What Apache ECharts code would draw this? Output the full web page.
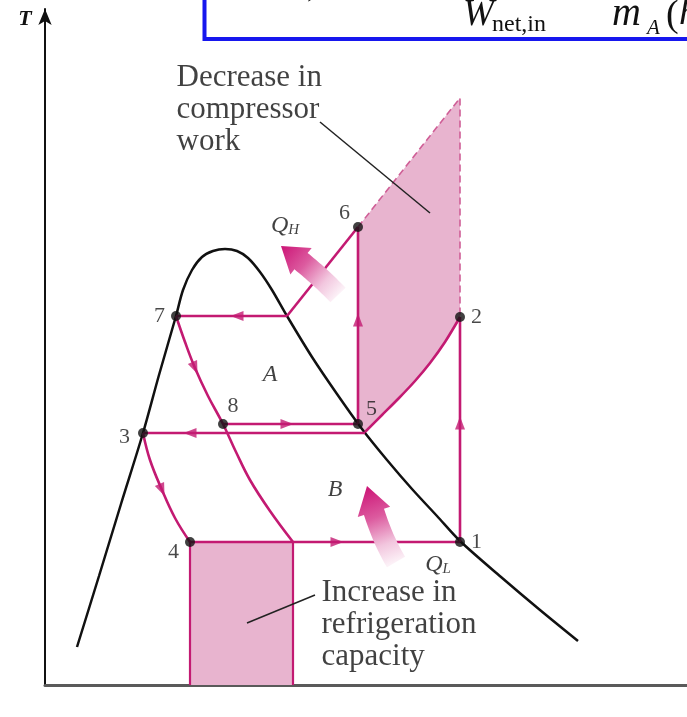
<!DOCTYPE html>
<html>
<head>
<meta charset="utf-8">
<script src="https://cdn.jsdelivr.net/npm/echarts@6/dist/echarts.min.js"></script>
<style>
html, body { margin: 0; padding: 0; background: #fff; }
#main { width: 687px; height: 717px; }
</style>
</head>
<body>
<div id="main"></div>
<script>
// T-s diagram of a two-stage cascade refrigeration system
// x = entropy s, y = temperature T, origin where the axes meet

// saturation dome
const dome = [[32, 38], [54, 109], [76, 181], [98, 252], [114, 310], [131, 369], [138, 395],
  [147, 415], [157, 428], [168, 434], [180, 436], [192, 434], [203, 427], [215, 413], [227, 395],
  [242, 369], [267, 328], [292, 291], [317, 256], [342, 225], [367, 196], [392, 169], [415, 144],
  [456, 108], [495, 75], [533, 44]];

// state points
const states = [['1', 415, 143], ['2', 415, 368], ['3', 98, 252], ['4', 145, 143],
  ['5', 313, 261], ['6', 313, 458], ['7', 131, 369], ['8', 178, 261]];

// lower cycle (B)
const evapB = [[145, 143], [415, 143]];
const compB = [[415, 143], [415, 368]];
const condB = [[415, 368], [400, 343], [385, 322], [370, 304], [354, 287], [337, 270], [320, 253]];
const liqB = [[320, 252], [98, 252]];
const expB = [[98, 252], [105, 225], [117, 195], [130, 167], [145, 143]];

// upper cycle (A)
const compA = [[313, 261], [313, 458]];
const desupA = [[313, 458], [242, 369]];
const condA = [[242, 369], [131, 369]];
const expA = [[131, 369], [140, 343], [150, 317], [163, 289], [178, 261], [191, 233], [205, 205], [225, 174], [248, 143]];
const evapA = [[178, 261], [313, 261]];

// single-stage comparison: compressor line and capacity strip
const singleComp = [[313, 458], [415, 587], [415, 368]];
const capLeft = [[145, 143], [145, 0]];
const capRight = [[248, 143], [248, 0]];

// shaded areas
const workArea = [[313, 261], [313, 458], [415, 587], [415, 368], [400, 343], [385, 322],
  [370, 304], [354, 287], [337, 270], [320, 253]];
const capArea = [[145, 0], [145, 143], [248, 143], [248, 0]];

// flow direction marks [s, T, angle]
const flowMarks = [[292, 143, -90], [415, 262, 0], [145, 252, 90], [117, 195, 203],
  [313, 365, 0], [192, 369, 90], [150, 317, 203], [242, 261, -90]];

// heat arrows [tail, bend, tip]
const heatArrows = [
  [[293, 390], [267, 417], [236, 439]],
  [[351, 123], [332, 155], [322, 199]]
];

// leader lines of the notes
const leaderTop = [[275, 563], [385, 472]];
const leaderBottom = [[270, 90], [202, 62]];

// italic symbols in the diagram
const symbols = [[225, 310, 'A'], [290, 195, 'B'], [240, 459, 'Q_H'], [393, 120, 'Q_L']];
// notes
const notes = [[132, 623, 'Decrease in\ncompressor\nwork'], [277, 108, 'Increase in\nrefrigeration\ncapacity']];

const MAGENTA = '#c31a72';
const PINK = '#e8b4cf';
const SERIF = '"Liberation Serif", "Times New Roman", serif';

const labelLayout = {
  '1': { position: 'right', distance: 6 },
  '2': { position: 'right', distance: 6 },
  '3': { position: 'left', distance: 8, offset: [0, 4] },
  '4': { position: 'left', distance: 6, offset: [0, 10] },
  '5': { position: 'right', distance: 3, offset: [0, -15] },
  '6': { position: 'left', distance: 3, offset: [0, -14] },
  '7': { position: 'left', distance: 6 },
  '8': { position: 'top', distance: 2, offset: [10, 0] }
};

function path(data, color, width, smooth, dashed) {
  return {
    type: 'line', data: data, symbol: 'none', smooth: smooth || false, silent: true, z: 3,
    lineStyle: { color: color, width: width, type: dashed ? [7, 4] : 'solid' }
  };
}

function renderArea(params, api) {
  const list = [workArea, capArea];
  const pts = list[params.dataIndex].map(function (p) { return api.coord(p); });
  return { type: 'polygon', shape: { points: pts }, style: { fill: PINK } };
}

function renderHeatArrow(params, api) {
  const a = heatArrows[params.dataIndex];
  const p0 = api.coord(a[0]), p1 = api.coord(a[1]), p2 = api.coord(a[2]);
  const headLen = 25, headHalf = 17, shaftHalf = 10.5;
  const at = function (t) {
    return [(1 - t) * (1 - t) * p0[0] + 2 * (1 - t) * t * p1[0] + t * t * p2[0],
      (1 - t) * (1 - t) * p0[1] + 2 * (1 - t) * t * p1[1] + t * t * p2[1]];
  };
  const nrm = function (t) {
    const dx = 2 * (1 - t) * (p1[0] - p0[0]) + 2 * t * (p2[0] - p1[0]);
    const dy = 2 * (1 - t) * (p1[1] - p0[1]) + 2 * t * (p2[1] - p1[1]);
    const l = Math.hypot(dx, dy);
    return [-dy / l, dx / l];
  };
  let len = 0, prev = p0;
  for (let i = 1; i <= 40; i++) {
    const q = at(i / 40);
    len += Math.hypot(q[0] - prev[0], q[1] - prev[1]);
    prev = q;
  }
  const th = 1 - headLen / len;
  const left = [], right = [];
  for (let i = 0; i <= 20; i++) {
    const t = th * i / 20, p = at(t), n = nrm(t);
    left.push([p[0] + n[0] * shaftHalf, p[1] + n[1] * shaftHalf]);
    right.push([p[0] - n[0] * shaftHalf, p[1] - n[1] * shaftHalf]);
  }
  const b = at(th), n = nrm(th);
  const pts = left.concat([[b[0] + n[0] * headHalf, b[1] + n[1] * headHalf], p2,
    [b[0] - n[0] * headHalf, b[1] - n[1] * headHalf]], right.reverse());
  return {
    type: 'polygon', shape: { points: pts },
    style: {
      fill: new echarts.graphic.LinearGradient(p0[0], p0[1], p2[0], p2[1], [
        { offset: 0, color: '#fcf1f7' }, { offset: 0.25, color: '#f2c6de' },
        { offset: 0.6, color: '#dc5b9f' }, { offset: 1, color: '#cc1476' }], true)
    }
  };
}

const chart = echarts.init(document.getElementById('main'));
chart.setOption({
  animation: false,
  backgroundColor: '#fff',
  grid: { left: 45, right: 0, top: 9, bottom: 32 },
  xAxis: {
    type: 'value', min: 0, max: 642,
    axisLine: { lineStyle: { color: '#5a5a5a', width: 3 } },
    axisTick: { show: false }, axisLabel: { show: false }, splitLine: { show: false }
  },
  yAxis: {
    type: 'value', min: 0, max: 676,
    axisLine: { show: true, lineStyle: { color: '#111', width: 2 }, symbol: ['none', 'arrow'], symbolSize: [10, 16] },
    axisTick: { show: false }, axisLabel: { show: false }, splitLine: { show: false }
  },
  graphic: [
    { type: 'text', x: 25, y: 19, style: { text: 'T', font: 'italic bold 22px ' + SERIF, fill: '#111', align: 'center', verticalAlign: 'middle' } },
    { type: 'rect', shape: { x: 204.5, y: -30, width: 540, height: 69 }, style: { fill: 'none', stroke: '#1717ee', lineWidth: 4 } },
    { type: 'text', x: 290, y: -9, style: { text: 'R,cascade', font: '26px ' + SERIF, fill: '#111', verticalAlign: 'middle' } },
    { type: 'text', x: 463, y: 15, style: { text: 'W', font: 'italic 37px ' + SERIF, fill: '#111', verticalAlign: 'middle' } },
    { type: 'text', x: 492, y: 25, style: { text: 'net,in', font: '24px ' + SERIF, fill: '#111', verticalAlign: 'middle' } },
    { type: 'text', x: 612, y: 14, style: { text: 'm', font: 'italic 40px ' + SERIF, fill: '#111', verticalAlign: 'middle' } },
    { type: 'text', x: 647, y: 28, style: { text: 'A', font: 'italic 21px ' + SERIF, fill: '#111', verticalAlign: 'middle' } },
    { type: 'text', x: 666, y: 16, style: { text: '(', font: '38px ' + SERIF, fill: '#111', verticalAlign: 'middle' } },
    { type: 'text', x: 679, y: 14, style: { text: 'h', font: 'italic 38px ' + SERIF, fill: '#111', verticalAlign: 'middle' } }
  ],
  series: [
    { type: 'custom', coordinateSystem: 'cartesian2d', renderItem: renderArea, data: [[0, 0], [1, 0]], silent: true, z: 1 },
    path(dome, '#111', 2.5, 0.3),
    path(singleComp, '#cf5e96', 1.6, false, true),
    path(capLeft, MAGENTA, 2.2),
    path(capRight, MAGENTA, 2.2),
    path(evapB, MAGENTA, 2.6),
    path(compB, MAGENTA, 2.6),
    path(condB, MAGENTA, 2.6, 0.3),
    path(liqB, MAGENTA, 2.6),
    path(expB, MAGENTA, 2.6, 0.4),
    path(compA, MAGENTA, 2.6),
    path(desupA, MAGENTA, 2.6),
    path(condA, MAGENTA, 2.6),
    path(expA, MAGENTA, 2.6, 0.4),
    path(evapA, MAGENTA, 2.6),
    path(leaderTop, '#222', 1.5),
    path(leaderBottom, '#222', 1.5),
    {
      type: 'scatter', silent: true, z: 4,
      data: flowMarks.map(function (f) { return { value: [f[0], f[1]], symbolRotate: f[2] }; }),
      symbol: 'triangle', symbolSize: [10, 13], itemStyle: { color: MAGENTA }
    },
    {
      type: 'scatter', silent: true, z: 5, symbolSize: 10, itemStyle: { color: '#111' },
      data: states.map(function (p) {
        return { name: p[0], value: [p[1], p[2]], label: labelLayout[p[0]] };
      }),
      label: { show: true, formatter: '{b}', color: '#1a1a1a', fontFamily: SERIF, fontSize: 22 }
    },
    {
      type: 'custom', coordinateSystem: 'cartesian2d', renderItem: renderHeatArrow,
      data: [[0, 0], [1, 0]], silent: true, z: 6
    },
    {
      type: 'scatter', silent: true, z: 7, symbolSize: 1, itemStyle: { color: 'rgba(0,0,0,0)' },
      data: symbols.map(function (s) { return { name: s[2], value: [s[0], s[1]] }; }),
      label: {
        show: true, position: 'inside', align: 'center', verticalAlign: 'middle',
        formatter: function (p) {
          const parts = p.name.split('_');
          return parts.length > 1 ? '{m|' + parts[0] + '}{s|' + parts[1] + '}' : '{m|' + parts[0] + '}';
        },
        rich: {
          m: { fontFamily: SERIF, fontStyle: 'italic', fontSize: 24, color: '#111' },
          s: { fontFamily: SERIF, fontStyle: 'italic', fontSize: 15, color: '#111', padding: [8, 0, 0, 0] }
        }
      }
    },
    {
      type: 'scatter', silent: true, z: 7, symbolSize: 1, itemStyle: { color: 'rgba(0,0,0,0)' },
      data: notes.map(function (n) { return { name: n[2], value: [n[0], n[1]] }; }),
      label: {
        show: true, position: [0, 0], align: 'left', verticalAlign: 'top', formatter: '{b}',
        fontFamily: SERIF, fontSize: 31, lineHeight: 32, color: '#111'
      }
    }
  ]
});
</script>
</body>
</html>
